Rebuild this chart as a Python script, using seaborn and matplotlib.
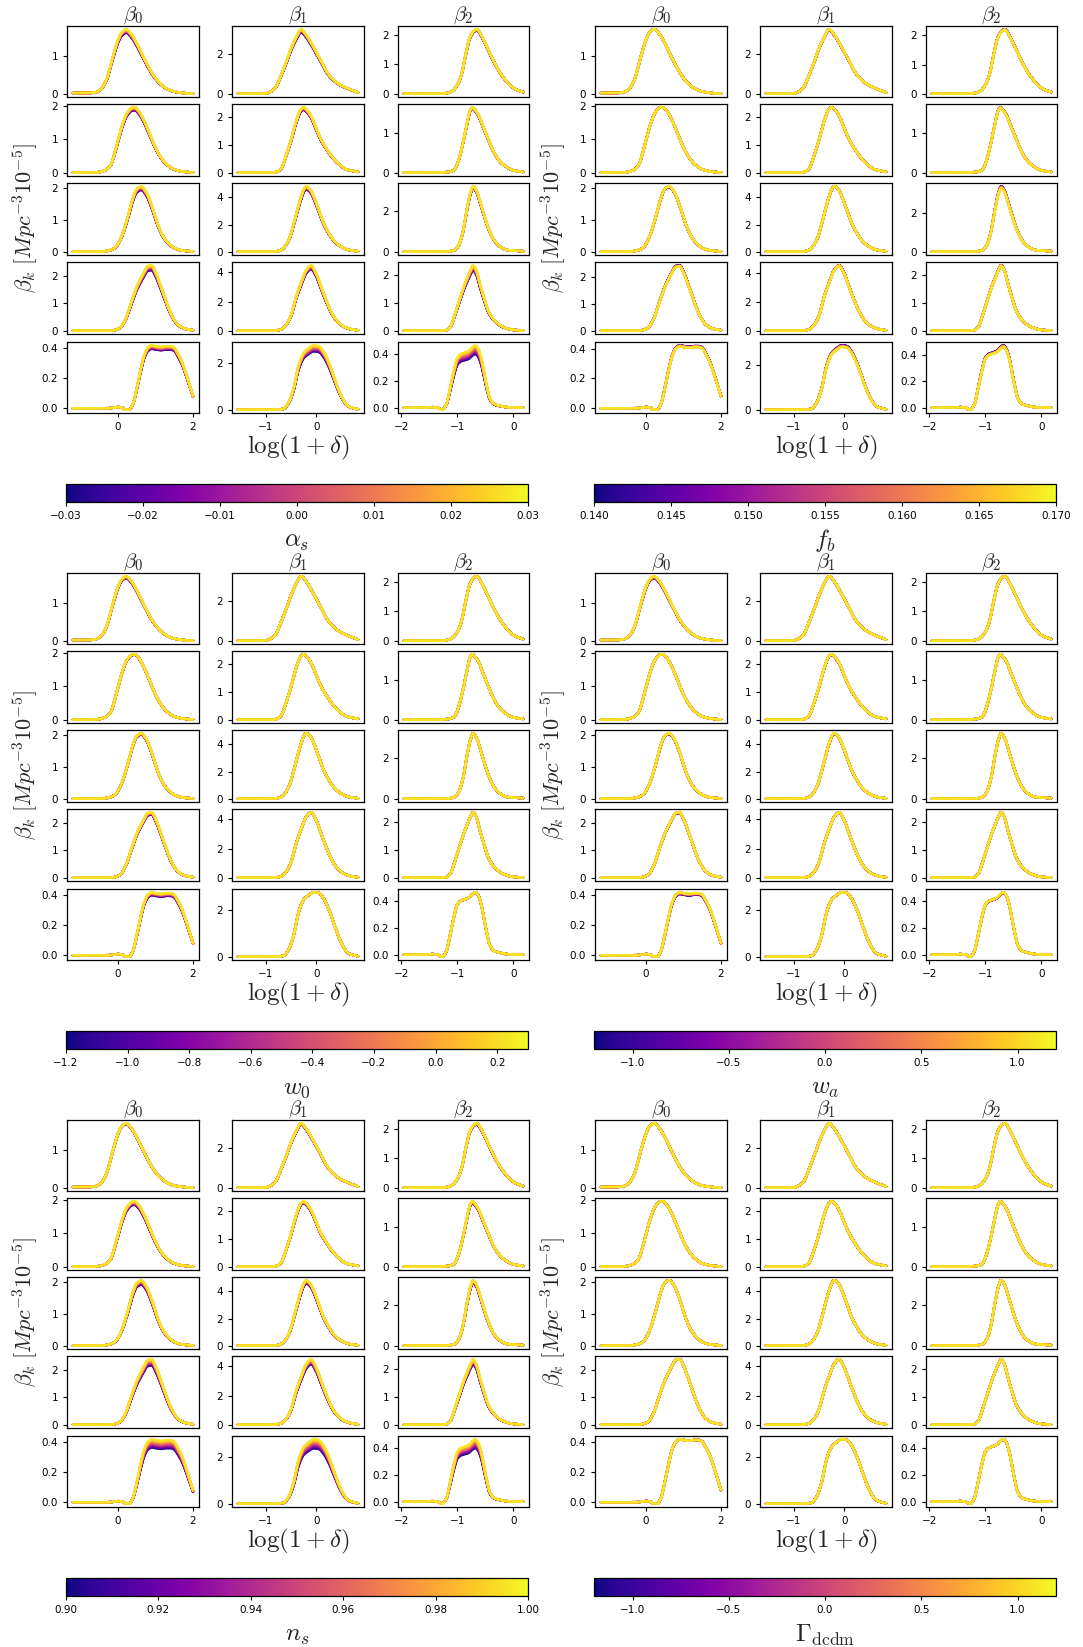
import numpy as np
import pandas as pd
import matplotlib
matplotlib.use("Agg")
import matplotlib.pyplot as plt
import seaborn as sns
from matplotlib.ticker import FixedLocator

sns.set_style("ticks")
plt.rcParams.update({
    "font.family": ["DejaVu Sans"],
    "mathtext.fontset": "cm",
    "axes.edgecolor": "black",
    "axes.linewidth": 0.9,
    "xtick.color": "black",
    "ytick.color": "black",
    "xtick.labelsize": 7.5,
    "ytick.labelsize": 7.5,
    "xtick.major.size": 3,
    "ytick.major.size": 3,
})

# ---------------- fiducial curves (x = log(1+delta)) ----------------
r0c0_x = [-1.2, -0.8, -0.6, -0.45, -0.3, -0.15, 0.0, 0.1, 0.22, 0.35, 0.5, 0.65, 0.8, 0.95, 1.1, 1.3, 1.5, 1.75, 2.0]
r0c0_y = [0.02, 0.02, 0.04, 0.13, 0.40, 0.95, 1.45, 1.65, 1.73, 1.61, 1.36, 1.05, 0.75, 0.49, 0.30, 0.14, 0.06, 0.02, 0.0]
r0c1_x = [-1.55, -1.2, -1.0, -0.9, -0.8, -0.7, -0.6, -0.5, -0.4, -0.3, -0.2, -0.1, 0.0, 0.1, 0.2, 0.3, 0.45, 0.6, 0.83]
r0c1_y = [0.02, 0.02, 0.04, 0.12, 0.35, 0.92, 1.55, 2.25, 2.8, 3.2, 2.95, 2.55, 2.1, 1.65, 1.15, 0.82, 0.5, 0.31, 0.08]
r0c2_x = [-1.95, -1.5, -1.2, -1.1, -1.0, -0.92, -0.85, -0.78, -0.7, -0.65, -0.55, -0.45, -0.35, -0.25, -0.15, -0.05, 0.05, 0.17]
r0c2_y = [0.0, 0.0, 0.02, 0.08, 0.3, 0.7, 1.35, 1.9, 2.15, 2.19, 1.9, 1.5, 1.1, 0.75, 0.48, 0.27, 0.14, 0.06]

r1c0_x = [-1.2, -0.8, -0.5, -0.35, -0.2, -0.05, 0.1, 0.25, 0.4, 0.45, 0.55, 0.7, 0.85, 1.0, 1.15, 1.3, 1.5, 1.75, 2.0]
r1c0_y = [0.0, 0.0, 0.02, 0.07, 0.22, 0.75, 1.38, 1.8, 1.95, 1.95, 1.85, 1.55, 1.15, 0.75, 0.45, 0.25, 0.1, 0.03, 0.01]
r1c1_x = [-1.55, -1.2, -0.9, -0.8, -0.7, -0.6, -0.5, -0.4, -0.3, -0.25, -0.2, -0.1, 0.0, 0.1, 0.2, 0.3, 0.45, 0.6, 0.83]
r1c1_y = [0.02, 0.02, 0.02, 0.04, 0.15, 0.6, 1.18, 1.85, 2.3, 2.36, 2.3, 2.05, 1.62, 1.2, 0.9, 0.63, 0.33, 0.14, 0.05]
r1c2_x = [-1.95, -1.5, -1.15, -1.05, -0.98, -0.9, -0.82, -0.77, -0.73, -0.68, -0.62, -0.55, -0.45, -0.35, -0.25, -0.15, 0.0, 0.17]
r1c2_y = [0.0, 0.0, 0.02, 0.08, 0.3, 0.75, 1.3, 1.58, 1.65, 1.58, 1.45, 1.2, 0.85, 0.52, 0.3, 0.17, 0.06, 0.02]

r2c0_x = [-1.2, -0.8, -0.4, -0.2, -0.05, 0.1, 0.25, 0.4, 0.5, 0.62, 0.75, 0.9, 1.05, 1.2, 1.35, 1.5, 1.7, 2.0]
r2c0_y = [0.01, 0.01, 0.02, 0.06, 0.17, 0.5, 1.05, 1.7, 1.97, 2.05, 1.88, 1.45, 0.9, 0.5, 0.27, 0.13, 0.05, 0.02]
r2c1_x = [-1.55, -1.2, -0.85, -0.72, -0.62, -0.52, -0.42, -0.32, -0.25, -0.2, -0.12, -0.05, 0.05, 0.15, 0.25, 0.35, 0.5, 0.65, 0.83]
r2c1_y = [0.02, 0.02, 0.03, 0.1, 0.4, 1.1, 2.45, 3.8, 4.55, 4.8, 4.6, 4.1, 3.1, 2.1, 1.4, 0.85, 0.38, 0.15, 0.05]
r2c2_x = [-1.95, -1.5, -1.15, -1.05, -0.97, -0.9, -0.83, -0.76, -0.72, -0.66, -0.6, -0.52, -0.45, -0.35, -0.25, -0.1, 0.17]
r2c2_y = [0.0, 0.0, 0.02, 0.08, 0.35, 1.0, 2.1, 3.0, 3.25, 3.05, 2.55, 1.8, 1.2, 0.6, 0.28, 0.08, 0.03]

r3c0_x = [-1.2, -0.8, -0.4, -0.1, 0.05, 0.2, 0.35, 0.5, 0.65, 0.8, 0.9, 1.0, 1.15, 1.3, 1.45, 1.6, 1.8, 2.0]
r3c0_y = [0.0, 0.0, 0.0, 0.02, 0.1, 0.42, 1.02, 1.6, 2.02, 2.36, 2.38, 2.15, 1.6, 1.0, 0.52, 0.22, 0.07, 0.02]
r3c1_x = [-1.55, -1.2, -0.85, -0.7, -0.6, -0.5, -0.4, -0.3, -0.2, -0.1, 0.0, 0.1, 0.2, 0.3, 0.4, 0.55, 0.7, 0.83]
r3c1_y = [0.02, 0.02, 0.03, 0.1, 0.4, 1.05, 2.3, 3.3, 4.15, 4.48, 3.95, 3.0, 2.1, 1.3, 0.75, 0.3, 0.12, 0.05]
r3c2_x = [-1.95, -1.5, -1.2, -1.12, -1.05, -0.97, -0.9, -0.83, -0.77, -0.72, -0.66, -0.6, -0.52, -0.45, -0.35, -0.2, 0.0, 0.17]
r3c2_y = [0.0, 0.0, 0.02, 0.15, 0.55, 1.05, 1.5, 1.85, 2.15, 2.33, 2.15, 1.7, 1.15, 0.72, 0.4, 0.15, 0.03, 0.01]

r4c0_x = [-1.2, -0.6, -0.3, -0.1, 0.0, 0.1, 0.2, 0.3, 0.4, 0.5, 0.6, 0.7, 0.8, 0.9, 1.0, 1.15, 1.3, 1.4, 1.5, 1.6, 1.7, 1.8, 1.9, 2.0]
r4c0_y = [0.0, 0.0, 0.0, 0.004, 0.008, 0.005, -0.008, -0.01, 0.03, 0.13, 0.25, 0.35, 0.40, 0.415, 0.41, 0.405, 0.41, 0.41, 0.40, 0.36, 0.31, 0.24, 0.16, 0.08]
r4c1_x = [-1.55, -1.2, -0.8, -0.65, -0.55, -0.45, -0.35, -0.25, -0.15, -0.05, 0.05, 0.15, 0.25, 0.35, 0.45, 0.55, 0.65, 0.83]
r4c1_y = [0.01, 0.01, 0.02, 0.05, 0.3, 0.9, 1.9, 2.45, 2.65, 2.78, 2.75, 2.5, 2.05, 1.45, 0.85, 0.4, 0.15, 0.03]
r4c2_x = [-1.95, -1.6, -1.45, -1.35, -1.27, -1.2, -1.13, -1.06, -1.0, -0.93, -0.86, -0.8, -0.74, -0.68, -0.63, -0.58, -0.53, -0.48, -0.42, -0.35, -0.25, -0.1, 0.17]
r4c2_y = [0.0, 0.0, 0.005, 0.0, -0.015, 0.02, 0.14, 0.28, 0.37, 0.40, 0.41, 0.42, 0.445, 0.462, 0.44, 0.38, 0.28, 0.17, 0.07, 0.03, 0.015, 0.004, 0.0]

# ---------------- parameters (colour bars) ----------------
param_labels = [r"$\alpha_s$", r"$f_b$", r"$w_0$", r"$w_a$", r"$n_s$", r"$\Gamma_{\rm dcdm}$"]
param_ranges = [(-0.03, 0.03), (0.14, 0.17), (-1.2, 0.3), (-1.2, 1.2), (0.90, 1.00), (-1.2, 1.2)]
param_ticks = [
    [-0.03, -0.02, -0.01, 0.00, 0.01, 0.02, 0.03],
    [0.140, 0.145, 0.150, 0.155, 0.160, 0.165, 0.170],
    [-1.2, -1.0, -0.8, -0.6, -0.4, -0.2, 0.0, 0.2],
    [-1.0, -0.5, 0.0, 0.5, 1.0],
    [0.90, 0.92, 0.94, 0.96, 0.98, 1.00],
    [-1.0, -0.5, 0.0, 0.5, 1.0],
]
param_ticklabels = [
    ["\u22120.03", "\u22120.02", "\u22120.01", "0.00", "0.01", "0.02", "0.03"],
    ["0.140", "0.145", "0.150", "0.155", "0.160", "0.165", "0.170"],
    ["\u22121.2", "\u22121.0", "\u22120.8", "\u22120.6", "\u22120.4", "\u22120.2", "0.0", "0.2"],
    ["\u22121.0", "\u22120.5", "0.0", "0.5", "1.0"],
    ["0.90", "0.92", "0.94", "0.96", "0.98", "1.00"],
    ["\u22121.0", "\u22120.5", "0.0", "0.5", "1.0"],
]
spread_alpha_s = [[0.06, 0.05, 0.02], [0.05, 0.04, 0.02], [0.06, 0.05, 0.03], [0.08, 0.06, 0.08], [0.06, 0.10, 0.15]]
spread_f_b = [[0.0, 0.01, -0.01], [0.0, 0.0, -0.01], [0.01, 0.0, -0.03], [-0.02, -0.01, -0.01], [-0.02, -0.03, -0.03]]
spread_w_0 = [[0.03, 0.0, 0.0], [0.01, 0.0, 0.0], [0.02, 0.0, 0.0], [0.04, 0.0, 0.0], [0.05, 0.0, 0.0]]
spread_w_a = [[0.03, 0.0, 0.0], [0.0, 0.01, 0.0], [0.01, 0.01, 0.0], [0.01, 0.0, 0.0], [0.03, 0.0, 0.01]]
spread_n_s = [[0.01, 0.02, 0.02], [0.06, 0.03, 0.03], [0.07, 0.05, 0.04], [0.10, 0.08, 0.08], [0.14, 0.15, 0.15]]
spread_gamma = [[0.0, 0.0, 0.0], [0.0, 0.0, 0.0], [0.0, 0.0, 0.0], [0.0, 0.0, 0.0], [0.0, 0.0, 0.0]]
spreads = [spread_alpha_s, spread_f_b, spread_w_0, spread_w_a, spread_n_s, spread_gamma]
sample_fraction = np.linspace(0.0, 0.96, 24)   # where the simulated parameter values sit on the bar

col_titles = [r"$\beta_0$", r"$\beta_1$", r"$\beta_2$"]
xticks_cols = [[0, 2], [-1, 0], [-2, -1, 0]]
yticks_grid = [
    [[0, 1], [0, 2], [0, 1, 2]],
    [[0, 1, 2], [0, 1, 2], [0, 1]],
    [[0, 1, 2], [0, 2, 4], [0, 2]],
    [[0, 1, 2], [0, 2, 4], [0, 1, 2]],
    [[0.0, 0.2, 0.4], [0, 2], [0.0, 0.2, 0.4]],
]

base_x = [[r0c0_x, r0c1_x, r0c2_x], [r1c0_x, r1c1_x, r1c2_x], [r2c0_x, r2c1_x, r2c2_x],
          [r3c0_x, r3c1_x, r3c2_x], [r4c0_x, r4c1_x, r4c2_x]]
base_y = [[r0c0_y, r0c1_y, r0c2_y], [r1c0_y, r1c1_y, r1c2_y], [r2c0_y, r2c1_y, r2c2_y],
          [r3c0_y, r3c1_y, r3c2_y], [r4c0_y, r4c1_y, r4c2_y]]


def pchip(x, y, xn):
    x = np.asarray(x, float); y = np.asarray(y, float)
    h = np.diff(x); d = np.diff(y) / h
    m = np.zeros_like(y)
    for k in range(1, len(x) - 1):
        if d[k - 1] * d[k] > 0:
            w1 = 2 * h[k] + h[k - 1]; w2 = h[k] + 2 * h[k - 1]
            m[k] = (w1 + w2) / (w1 / d[k - 1] + w2 / d[k])
    m[0] = d[0]; m[-1] = d[-1]
    idx = np.clip(np.searchsorted(x, xn) - 1, 0, len(x) - 2)
    t = (xn - x[idx]) / h[idx]
    h00 = 2 * t**3 - 3 * t**2 + 1; h10 = t**3 - 2 * t**2 + t
    h01 = -2 * t**3 + 3 * t**2; h11 = t**3 - t**2
    return h00 * y[idx] + h10 * h[idx] * m[idx] + h01 * y[idx + 1] + h11 * h[idx] * m[idx + 1]


W, H = 1083, 1647
fig = plt.figure(figsize=(W / 100, H / 100), dpi=100)


def rect(x0, y0, x1, y1):
    return [x0 / W, 1 - y1 / H, (x1 - x0) / W, (y1 - y0) / H]


col_px = [(67, 199), (232, 364), (398, 529)]
row_px = [(26, 97), (104, 176), (183, 255), (262, 334), (342, 413)]
block_dx = [0, 528]
block_dy = [0, 547, 1094]

for p in range(6):
    dy = block_dy[p // 2]
    dx = block_dx[p % 2]
    lo, hi = param_ranges[p]
    vals = lo + sample_fraction * (hi - lo)
    for r in range(5):
        for c in range(3):
            ax = fig.add_axes(rect(col_px[c][0] + dx, row_px[r][0] + dy,
                                   col_px[c][1] + dx, row_px[r][1] + dy))
            bx = base_x[r][c]
            xn = np.linspace(bx[0], bx[-1], 220)
            yb = pchip(bx, base_y[r][c], xn)
            s = spreads[p][r][c]
            frames = []
            for f, v in zip(sample_fraction, vals):
                frames.append(pd.DataFrame({"x": xn, "y": yb * (1 + s * (f - 0.96)), "p": v}))
            df = pd.concat(frames, ignore_index=True)
            sns.lineplot(data=df, x="x", y="y", hue="p", palette="plasma", hue_norm=(lo, hi),
                         estimator=None, sort=False, legend=False, lw=1.7, alpha=0.85, ax=ax)
            ax.set_xlabel(""); ax.set_ylabel("")
            ax.yaxis.set_major_locator(FixedLocator(yticks_grid[r][c]))
            if r == 4:
                ax.xaxis.set_major_locator(FixedLocator(xticks_cols[c]))
            else:
                ax.set_xticks([])
            if r == 0:
                ax.set_title(col_titles[c], fontsize=15, pad=2)
            for sp in ax.spines.values():
                sp.set_visible(True)
                sp.set_color("black")
    fig.text((298 + dx) / W, 1 - (447 + dy) / H, r"$\log(1+\delta)$", ha="center", va="center", fontsize=18)
    fig.text((25 + dx) / W, 1 - (218 + dy) / H, r"$\beta_k\ [Mpc^{-3}10^{-5}]$", ha="center", va="center",
             rotation=90, fontsize=16)
    cax = fig.add_axes(rect(66 + dx, 484 + dy, 528 + dx, 502 + dy))
    sm = plt.cm.ScalarMappable(norm=plt.Normalize(lo, hi), cmap="plasma")
    cb = fig.colorbar(sm, cax=cax, orientation="horizontal")
    cb.set_ticks(param_ticks[p])
    cb.set_ticklabels(param_ticklabels[p])
    cb.ax.tick_params(labelsize=7.5, length=3)
    cb.outline.set_edgecolor("black")
    fig.text((297 + dx) / W, 1 - (541 + dy) / H, param_labels[p], ha="center", va="center", fontsize=18)

fig.savefig("out.png", dpi=100)
